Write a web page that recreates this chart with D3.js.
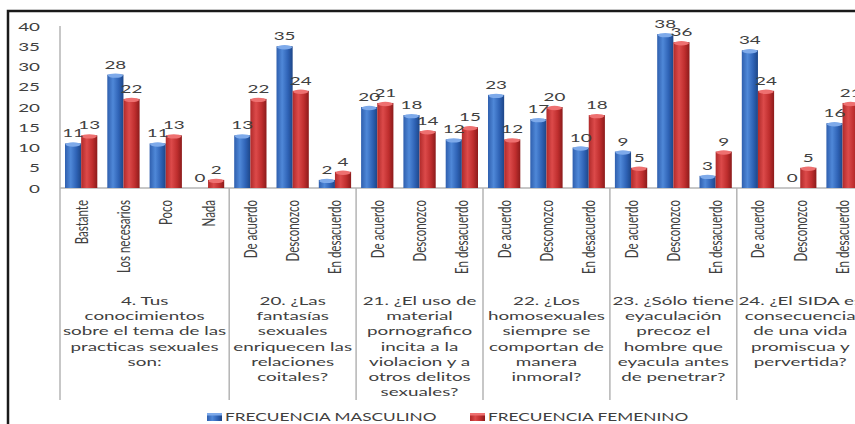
<!DOCTYPE html>
<html>
<head>
<meta charset="utf-8">
<script src="https://cdn.jsdelivr.net/npm/d3@7"></script>
<style>
  html, body { margin: 0; padding: 0; background: #fff; }
  svg { display: block; }
  text { font-family: Lato, "Liberation Sans", Arial, sans-serif; fill: #404040; }
</style>
</head>
<body>
<svg id="chart" width="855" height="424"></svg>
<script>
// Survey answers, grouped by question
const groups = [
  { lines: ["4. Tus", "conocimientos", "sobre el tema de las", "practicas sexuales", "son:"],
    answers: ["Bastante", "Los necesarios", "Poco", "Nada"] },
  { lines: ["20. ¿Las", "fantasías", "sexuales", "enriquecen las", "relaciones", "coitales?"],
    answers: ["De acuerdo", "Desconozco", "En desacuerdo"] },
  { lines: ["21. ¿El uso de", "material", "pornografico", "incita a la", "violacion y a", "otros delitos", "sexuales?"],
    answers: ["De acuerdo", "Desconozco", "En desacuerdo"] },
  { lines: ["22. ¿Los", "homosexuales", "siempre se", "comportan de", "manera", "inmoral?"],
    answers: ["De acuerdo", "Desconozco", "En desacuerdo"] },
  { lines: ["23. ¿Sólo tiene", "eyaculación", "precoz el", "hombre que", "eyacula antes", "de penetrar?"],
    answers: ["De acuerdo", "Desconozco", "En desacuerdo"] },
  { lines: ["24. ¿El SIDA es", "consecuencia", "de una vida", "promiscua y", "pervertida?"],
    answers: ["De acuerdo", "Desconozco", "En desacuerdo"] }
];

const seriesNames = ["FRECUENCIA MASCULINO", "FRECUENCIA FEMENINO"];
const masculino = [11, 28, 11, 0, 13, 35, 2, 20, 18, 12, 23, 17, 10, 9, 38, 3, 34, 0, 16];
const femenino  = [13, 22, 13, 2, 22, 24, 4, 21, 14, 15, 12, 20, 18, 5, 36, 9, 24, 5, 21];
const yTicks = [0, 5, 10, 15, 20, 25, 30, 35, 40];

// Flattened category list
const cats = [];
groups.forEach((g, gi) => g.answers.forEach(a => cats.push({ key: cats.length, label: a, group: gi })));

const svg = d3.select("#chart");
const SX = 1.57;            // horizontal stretch applied to all text
const plotLeft = 60, plotRight = 863.7, plotTop = 26, plotBase = 188, sepBottom = 400;

const x0 = d3.scaleBand().domain(cats.map(c => c.key)).range([plotLeft, plotRight]).padding(0);
const x1 = d3.scaleBand().domain([0, 1]).range([5, x0.bandwidth() - 5]).padding(0);
const y = d3.scaleLinear().domain([0, 40]).range([plotBase, plotTop]);

// Gradients for cylinder-shaded bars
const defs = svg.append("defs");
function grad(id, stops) {
  const g = defs.append("linearGradient").attr("id", id).attr("x1", "0").attr("x2", "1").attr("y1", "0").attr("y2", "0");
  stops.forEach(([o, c]) => g.append("stop").attr("offset", o).attr("stop-color", c));
}
grad("gBlue", [[0, "#2f5fae"], [0.35, "#4f88d8"], [0.7, "#2f63b6"], [1, "#1d4688"]]);
grad("gRed",  [[0, "#b02a2a"], [0.35, "#dc4a4a"], [0.7, "#bf2e2e"], [1, "#8c1b1b"]]);
const fills = ["url(#gBlue)", "url(#gRed)"];
const capFills = ["#7eaaea", "#ee7070"];

// Outer frame
svg.append("rect").attr("x", 8).attr("y", 11).attr("width", 900).attr("height", 500)
  .attr("fill", "none").attr("stroke", "#1a1a1a").attr("stroke-width", 2.5);

// Axes lines
const axisColor = "#b4b4b4";
svg.append("line").attr("x1", plotLeft).attr("x2", plotRight).attr("y1", plotBase).attr("y2", plotBase)
  .attr("stroke", axisColor).attr("stroke-width", 1.5);

const yAxis = svg.append("g").attr("transform", `translate(${plotLeft},0)`)
  .call(d3.axisLeft(y).tickValues(yTicks).tickSize(0).tickPadding(0));
yAxis.select(".domain").remove();
yAxis.selectAll("text")
  .attr("x", 0).attr("dy", "0.34em").attr("text-anchor", "end")
  .attr("transform", `translate(-20,0) scale(${SX},1)`)
  .style("font-size", "12px").style("font-family", "Lato, Liberation Sans, Arial, sans-serif").attr("fill", "#404040");
svg.append("line").attr("x1", plotLeft).attr("x2", plotLeft).attr("y1", plotTop).attr("y2", sepBottom)
  .attr("stroke", axisColor).attr("stroke-width", 1.5);

// Group separators
let idx = 0;
groups.forEach((g, gi) => {
  idx += g.answers.length;
  if (gi < groups.length - 1) {
    const xs = x0(idx);
    svg.append("line").attr("x1", xs).attr("x2", xs).attr("y1", plotBase).attr("y2", sepBottom)
      .attr("stroke", axisColor).attr("stroke-width", 1.5);
  }
});

// Bars
const data = cats.map(c => ({ cat: c, vals: [masculino[c.key], femenino[c.key]] }));
const catG = svg.append("g").selectAll("g").data(data).join("g")
  .attr("transform", d => `translate(${x0(d.cat.key)},0)`);

const bw = x1.bandwidth();
catG.selectAll("g.bar").data(d => d.vals.map((v, s) => ({ v, s }))).join("g").attr("class", "bar")
  .each(function (d) {
    const g = d3.select(this);
    if (d.v <= 0) return;
    const bx = x1(d.s), by = y(d.v), h = plotBase - by;
    g.append("rect").attr("x", bx).attr("y", by).attr("width", bw).attr("height", h).attr("fill", fills[d.s]);
    g.append("ellipse").attr("cx", bx + bw / 2).attr("cy", by + 1).attr("rx", bw / 2 - 0.5).attr("ry", 2.2)
      .attr("fill", capFills[d.s]);
  });

// Value labels
catG.selectAll("text.val").data(d => d.vals.map((v, s) => ({ v, s }))).join("text").attr("class", "val")
  .attr("transform", d => `translate(${x1(d.s) + bw / 2},${y(d.v) - 6}) scale(${SX},1)`)
  .attr("text-anchor", "middle").style("font-size", "12px")
  .text(d => d.v);

// Answer labels (vertical)
svg.append("g").selectAll("text").data(cats).join("text")
  .attr("transform", d => `translate(${x0(d.key) + x0.bandwidth() / 2},200) scale(${SX},1) rotate(-90)`)
  .attr("text-anchor", "end").attr("dy", "0.36em").style("font-size", "11.5px")
  .text(d => d.label);

// Question labels
let start = 0;
groups.forEach(g => {
  const cx = (x0(start) + x0(start + g.answers.length - 1) + x0.bandwidth()) / 2;
  start += g.answers.length;
  svg.append("g").selectAll("text").data(g.lines).join("text")
    .attr("transform", (d, i) => `translate(${cx},${305 + i * 15.2}) scale(${SX},1)`)
    .attr("text-anchor", "middle").style("font-size", "12px")
    .text(d => d);
});

// Legend
const legend = [{ x: 207, name: seriesNames[0], s: 0 }, { x: 470, name: seriesNames[1], s: 1 }];
const lg = svg.append("g").selectAll("g").data(legend).join("g")
  .attr("transform", d => `translate(${d.x},413)`);
lg.append("rect").attr("width", 15).attr("height", 8).attr("fill", d => fills[d.s]);
lg.append("rect").attr("width", 15).attr("height", 2.5).attr("fill", d => capFills[d.s]);
lg.append("text").attr("transform", `translate(18,8) scale(${SX},1)`)
  .style("font-size", "11px").text(d => d.name);
</script>
</body>
</html>
